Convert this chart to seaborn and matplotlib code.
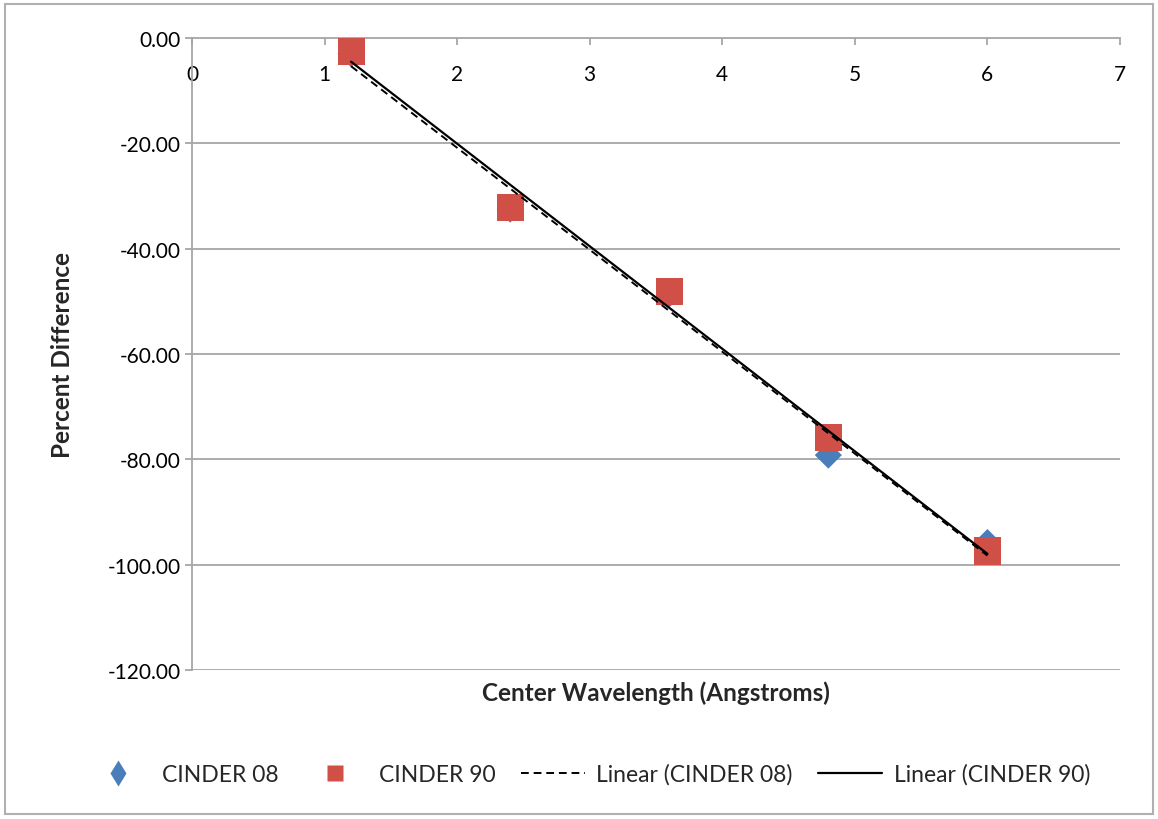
import numpy as np
import pandas as pd
import matplotlib
matplotlib.use("Agg")
import matplotlib.pyplot as plt
from matplotlib.lines import Line2D
from matplotlib.patches import Rectangle
import seaborn as sns

# Data
wavelength = [1.2, 2.4, 3.6, 4.8, 6.0]
cinder08 = [-3.0, -32.5, -48.6, -79.2, -95.8]
cinder90 = [-2.5, -32.1, -48.2, -75.9, -97.4]
x_ticks = [0, 1, 2, 3, 4, 5, 6, 7]
y_ticks = [0, -20, -40, -60, -80, -100, -120]

sns.set_theme(style="white")
plt.rcParams['font.family'] = ['Lato', 'DejaVu Sans']

df08 = pd.DataFrame({"x": wavelength, "y": cinder08})
df90 = pd.DataFrame({"x": wavelength, "y": cinder90})

fig = plt.figure(figsize=(11.58, 8.2), dpi=100)
ax = fig.add_axes([192/1158, 1-671/820, (1120-192)/1158, (671-39)/820])

blue = "#4A7EBB"
red = "#D04F47"

sns.scatterplot(data=df08, x="x", y="y", ax=ax, marker="D", s=190, color=blue,
                edgecolor="none", zorder=3, clip_on=False)
sns.scatterplot(data=df90, x="x", y="y", ax=ax, marker="s", s=380, color=red,
                edgecolor="none", zorder=4, clip_on=False)
sns.regplot(data=df08, x="x", y="y", ax=ax, scatter=False, ci=None, truncate=True,
            color="black", line_kws=dict(ls=(0, (4, 2.5)), lw=1.4, zorder=5))
sns.regplot(data=df90, x="x", y="y", ax=ax, scatter=False, ci=None, truncate=True,
            color="black", line_kws=dict(ls="-", lw=1.6, zorder=6))

ax.set_xlim(0, 7)
ax.set_ylim(-120, 0)
ax.set_xticks(x_ticks)
ax.set_yticks(y_ticks)
ax.set_yticklabels([f"{v:.2f}" for v in y_ticks])
ax.set_xticklabels([str(v) for v in x_ticks])

gc = "#A6A6A6"
for v in y_ticks[1:]:
    ax.axhline(v, color=gc, lw=1.3, zorder=1)

ax.spines['top'].set_visible(False)
ax.spines['right'].set_visible(False)
ax.spines['bottom'].set_position(('data', 0))
ax.spines['bottom'].set_color(gc)
ax.spines['bottom'].set_linewidth(1.3)
ax.spines['left'].set_color(gc)
ax.spines['left'].set_linewidth(1.3)
ax.spines['bottom'].set_zorder(2)

ax.tick_params(axis='x', direction='out', length=5, width=1.3, color=gc, pad=14,
               labelsize=15, labelcolor='black', bottom=True)
ax.tick_params(axis='y', direction='out', length=5, width=1.3, color=gc, pad=3,
               labelsize=15, labelcolor='black', left=True)

ax.set_xlabel("")
ax.set_ylabel("")
fig.text(656/1158, 1-693/820, "Center Wavelength (Angstroms)", ha='center', va='center',
         fontsize=17.5, fontweight='bold')
fig.text(63/1158, 1-355/820, "Percent Difference", ha='center', va='center',
         rotation=90, fontsize=17.5, fontweight='bold')

handles = [
    Line2D([], [], marker="d", color=blue, ls="none", markersize=13, markeredgecolor="none"),
    Line2D([], [], marker="s", color=red, ls="none", markersize=12, markeredgecolor="none"),
    Line2D([], [], color="black", ls=(0, (4, 2.5)), lw=1.4),
    Line2D([], [], color="black", ls="-", lw=1.6),
]
labels = ["CINDER 08", "CINDER 90", "Linear (CINDER 08)", "Linear (CINDER 90)"]
fig.legend(handles, labels, loc='center', bbox_to_anchor=(588/1158, 1-775/820), ncol=4,
           frameon=False, fontsize=16.5, handlelength=2.8, columnspacing=1.1, handletextpad=0.5)

fig.patches.append(Rectangle((5/1158, 5/820), 1148/1158, 810/820, transform=fig.transFigure,
                             fill=False, edgecolor="#B0B0B0", lw=1.5))

fig.savefig("out.png", dpi=100, facecolor="white")
